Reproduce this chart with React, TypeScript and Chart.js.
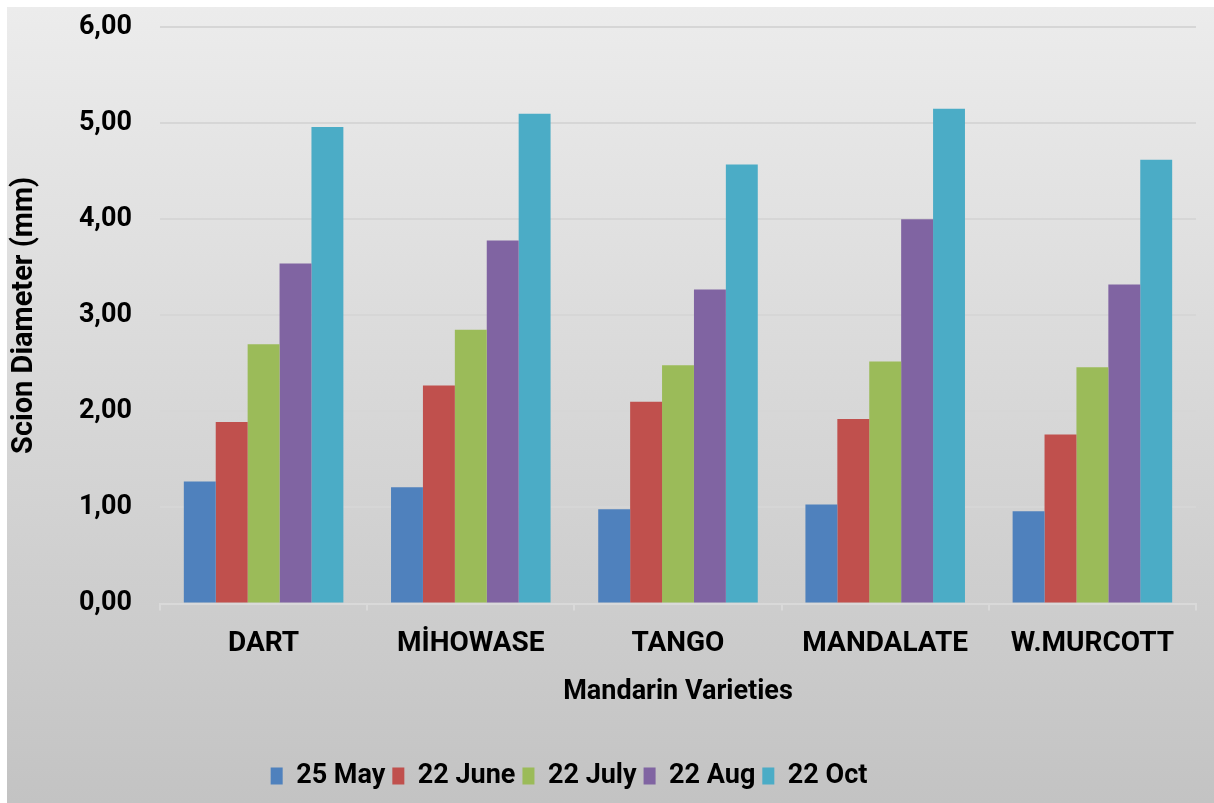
import React, { useEffect, useRef } from 'react';
import { Chart, registerables } from 'chart.js';

Chart.register(...registerables);

const categories = ['DART', 'MİHOWASE', 'TANGO', 'MANDALATE', 'W.MURCOTT'];
const seriesLabels = ['25 May', '22 June', '22 July', '22 Aug', '22 Oct'];
const may25 = [1.27, 1.21, 0.98, 1.03, 0.96];
const june22 = [1.89, 2.27, 2.1, 1.92, 1.76];
const july22 = [2.7, 2.85, 2.48, 2.52, 2.46];
const aug22 = [3.54, 3.78, 3.27, 4.0, 3.32];
const oct22 = [4.96, 5.1, 4.57, 5.15, 4.62];
const seriesColors = ['#4f81bd', '#c0504d', '#9bbb59', '#8064a2', '#4bacc6'];
const yMin = 0;
const yMax = 6;
const yStep = 1;
const xTitle = 'Mandarin Varieties';
const yTitle = 'Scion Diameter (mm)';

const FONT = 'Roboto';
const LEGEND_FONT = 27;
const LEGEND_PAD = 7;
const LEGEND_H = 79.5;
const LEGEND_CX = 562;
const LEGEND_CY = 769;

const bgPlugin = {
  id: 'bgGradient',
  beforeDraw(chart: any) {
    const { ctx, width, height } = chart;
    const g = ctx.createLinearGradient(0, 0, 0, height);
    g.addColorStop(0, '#ececec');
    g.addColorStop(1, '#c3c3c3');
    ctx.save();
    ctx.fillStyle = g;
    ctx.fillRect(0, 0, width, height);
    ctx.restore();
  },
};

const legendPlacePlugin = {
  id: 'legendPlace',
  beforeLayout(chart: any) {
    const lg = chart.legend;
    if (lg && !lg.__patched) {
      const orig = lg.fit;
      lg.fit = function () {
        orig.call(this);
        this.height = LEGEND_H;
      };
      lg.__patched = true;
    }
  },
  afterLayout(chart: any) {
    const lg = chart.legend;
    if (!lg) return;
    const cy = lg.top + LEGEND_PAD + LEGEND_FONT / 2;
    const dy = LEGEND_CY - cy;
    lg.top += dy;
    lg.bottom += dy;
    const cx = (lg.left + lg.right) / 2;
    const dx = LEGEND_CX - cx;
    lg.left += dx;
    lg.right += dx;
  },
};

export default function App() {
  const ref = useRef<HTMLCanvasElement | null>(null);

  useEffect(() => {
    if (!ref.current) return;
    const allSeries = [may25, june22, july22, aug22, oct22];
    const chart = new Chart(ref.current, {
      type: 'bar',
      data: {
        labels: categories,
        datasets: allSeries.map((d, i) => ({
          label: seriesLabels[i],
          data: d,
          backgroundColor: seriesColors[i],
          borderWidth: 0,
          categoryPercentage: 0.77,
          barPercentage: 1,
        })),
      },
      plugins: [bgPlugin, legendPlacePlugin],
      options: {
        responsive: false,
        animation: false,
        layout: { padding: { top: 0, right: 18, bottom: 0, left: 0 } },
        plugins: {
          legend: {
            position: 'bottom',
            labels: {
              color: '#000',
              font: { family: FONT, weight: 'bold', size: LEGEND_FONT },
              boxWidth: 12,
              boxHeight: 17,
              padding: LEGEND_PAD,
            },
          },
          tooltip: { enabled: false },
        },
        scales: {
          x: {
            afterFit: (scale: any) => {
              scale.height = 120;
            },
            grid: {
              display: true,
              drawOnChartArea: false,
              drawTicks: true,
              tickLength: 7,
              color: '#d9d9d9',
              lineWidth: 2,
            },
            border: { display: true, color: '#d9d9d9', width: 2 },
            ticks: {
              color: '#000',
              font: { family: FONT, weight: 'bold', size: 28 },
              padding: 17,
              maxRotation: 0,
            },
            title: {
              display: true,
              text: xTitle,
              color: '#000',
              font: { family: FONT, weight: 'bold', size: 27 },
              padding: { top: 0, bottom: 15 },
            },
          },
          y: {
            min: yMin,
            max: yMax,
            afterFit: (scale: any) => {
              scale.width = 153;
            },
            grid: {
              color: '#d6d6d6',
              lineWidth: 2,
              drawTicks: true,
              tickLength: 24,
              tickColor: 'rgba(0,0,0,0)',
            },
            border: { display: false },
            ticks: {
              stepSize: yStep,
              color: '#000',
              font: { family: FONT, weight: 'bold', size: 27 },
              padding: 4,
              callback: (v: any) => Number(v).toFixed(2).replace('.', ','),
            },
            title: {
              display: true,
              text: yTitle,
              color: '#000',
              font: { family: FONT, weight: 'bold', size: 29 },
              padding: { top: 0, bottom: 0 },
            },
          },
        },
      },
    });
    return () => chart.destroy();
  }, []);

  return (
    <div style={{ position: 'fixed', left: 7, top: 7, width: 1207, height: 796 }}>
      <canvas ref={ref} width={1207} height={796} style={{ display: 'block' }} />
    </div>
  );
}
